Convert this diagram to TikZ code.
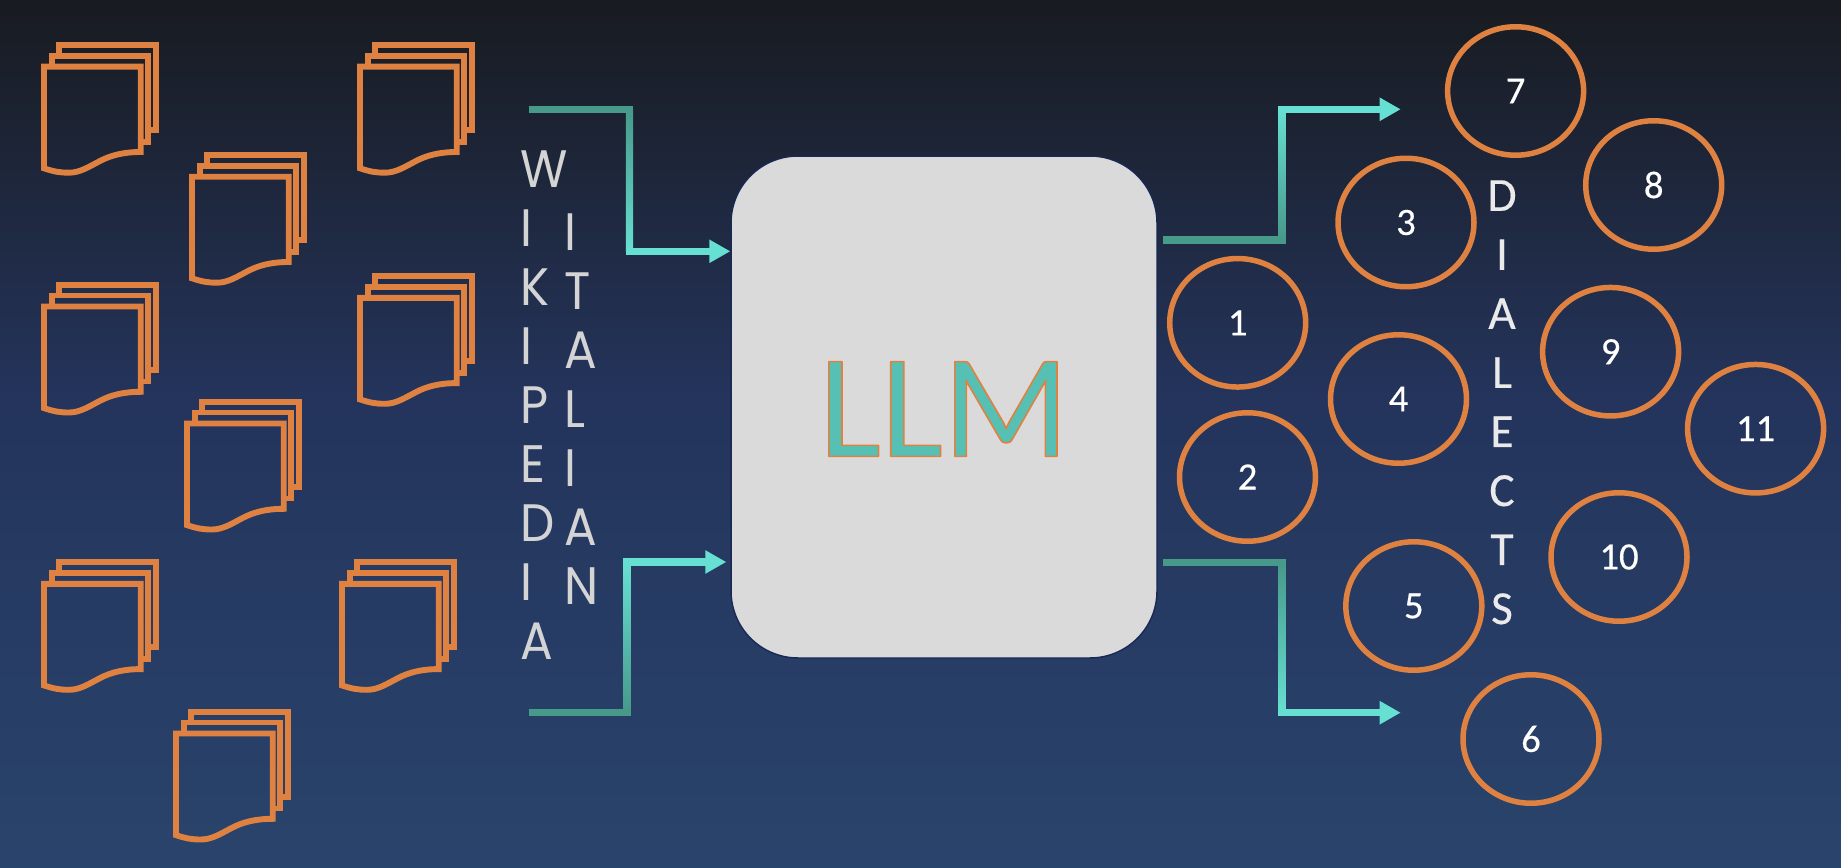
\documentclass[tikz,border=0pt]{standalone}
\usepackage{fontspec}
\usepackage{tikz}
\usetikzlibrary{arrows.meta,shapes.geometric}
\setmainfont{Carlito}
\newfontfamily\geofont[FakeStretch=0.92]{Poppins}
\newfontfamily\llmfont[FakeBold=1.1]{Carlito}
\newfontfamily\numfont[FakeBold=0.35]{Carlito}
\definecolor{bgtop}{RGB}{24,27,32}
\definecolor{bgmid}{RGB}{36,52,92}
\definecolor{bgend}{RGB}{41,68,108}
\definecolor{pageline}{RGB}{223,130,65}
\definecolor{flowdark}{RGB}{71,153,138}
\definecolor{flowlight}{RGB}{102,224,210}
\definecolor{boxgrey}{RGB}{218,218,218}
\definecolor{boxedge}{RGB}{25,40,85}
\definecolor{llmteal}{RGB}{86,192,180}
\definecolor{lettergrey}{RGB}{212,212,212}
\pgfdeclareverticalshading{backdrop}{100bp}{color(0bp)=(bgend); color(25bp)=(bgend); color(52bp)=(bgmid); color(75bp)=(bgtop); color(100bp)=(bgtop)}
% one leg of a flow: dark start, shaded riser
\newcommand{\flowleg}[4]{%
  \shade[#4] ([xshift=-.0725cm]#2) rectangle ([xshift=.0725cm]#3);
  \draw[legdark] (#1) -- ([xshift=.0725cm]#2);}
\tikzset{
  docstack/.pic={
    \draw[pageline, line width=.118cm]
      (15.3,-11) -- (15.3,-21.7) -- (112,-21.7) -- (112,63.3) -- (104,63.3);
    \draw[pageline, line width=.118cm]
      (8,0) -- (8,-11) -- (104,-11) -- (104,75) -- (96.7,75);
    \draw[pageline, line width=.118cm]
      (0,0) -- (96.7,0) -- (96.7,85.3)
      .. controls (80,85.3) and (67,88.5) .. (56,94.3)
      .. controls (45,100) and (36,106) .. (25,106)
      .. controls (16,106) and (10,105) .. (0,101.6) -- cycle;
  }
}
\begin{document}
\begin{tikzpicture}[
  x=.02cm, y=-.02cm,
  dialect/.style={draw=pageline, ellipse, line width=.11cm, text=white, inner sep=0pt,
                  minimum width=2.72cm, minimum height=2.57cm, font=\numfont\fontsize{22}{24}\selectfont},
  stacked/.style={text=lettergrey, align=left, inner sep=0pt,
                  font=\geofont\fontsize{30}{33.6}\selectfont},
  flow/.style={-{Triangle[length=.42cm, width=.44cm]}, flowlight, line width=.145cm},
  legdark/.style={flowdark, line width=.145cm},
  toplight/.style={top color=flowlight, bottom color=flowdark},
  topdark/.style={top color=flowdark, bottom color=flowlight}]
\shade[shading=backdrop] (0,0) rectangle (1841,868);
% document stacks
\foreach \name/\xx/\yy in {docA/44/66.7, docB/192/176.7, docC/360/66.7, docD/44/306.5, docE/360/297.8,
                           docF/187/423.5, docG/44/583.8, docH/342/583.8, docI/176/733.5}
  \pic (\name) at (\xx,\yy) {docstack};
\node[stacked, anchor=north west] (wiki) at (520,150) {W\\I\\K\\I\\P\\E\\D\\I\\A};
\node[stacked, anchor=north west] (ital) at (564,213) {I\\T\\A\\L\\I\\A\\N};
\node[draw=boxedge, fill=boxgrey, line width=.8pt, rounded corners=1.34cm,
      minimum width=8.52cm, minimum height=10.04cm] (llm) at (944,407) {};
\node[inner sep=0pt] (llmtext) at (944,409)
  {\llmfont\fontsize{84}{88}\selectfont\color{llmteal}\special{pdf:code 1 j 0.875 0.51 0.255 RG}LLM};
% dialects
\node[dialect] (d1) at (1237.7,322.8) {1};
\node[dialect] (d2) at (1247.5,477) {2};
\node[dialect] (d3) at (1406,222.5) {3};
\node[dialect] (d4) at (1398.5,399) {4};
\node[dialect] (d5) at (1413.8,606) {5};
\node[dialect] (d6) at (1531,739) {6};
\node[dialect] (d7) at (1515.6,91) {7};
\node[dialect] (d8) at (1653.7,185) {8};
\node[dialect] (d9) at (1610.6,351.7) {9};
\node[dialect] (d10) at (1619,557) {10};
\node[dialect] (d11) at (1755.6,428.7) {11};
\node[text=lettergrey!50!white, align=center, inner sep=0pt, anchor=north,
      font=\numfont\fontsize{27}{33.6}\selectfont] (dial) at (1502,180) {D\\I\\A\\L\\E\\C\\T\\S};
% flows
\coordinate (wikiTop) at (528.6,109.3);
\coordinate (wikiKnee) at (629.5,109.3);
\coordinate (wikiBend) at (629.5,251.3);
\coordinate (wikiLow) at (528.6,712.7);
\coordinate (lowKnee) at (627,712.7);
\coordinate (lowBend) at (627,562);
\coordinate (dialTop) at (1400.7,109.3);
\coordinate (dialLow) at (1400.7,712.7);
\coordinate (outTop) at (1163,240);
\coordinate (outTopKnee) at (1282,240);
\coordinate (outLow) at (1163,562.3);
\coordinate (outLowKnee) at (1282,562.3);
\draw[flow] (wikiTop) -| (wikiBend) -- (llm.west |- wikiBend);
\flowleg{wikiTop}{wikiKnee}{wikiBend}{topdark}
\draw[flow, shorten >=.08cm] (wikiLow) -| (lowBend) -- (llm.west |- lowBend);
\flowleg{wikiLow}{lowKnee}{lowBend}{toplight}
\draw[flow] (outTop) -| (dialTop -| outTopKnee) -- (dialTop);
\flowleg{outTop}{outTopKnee}{dialTop -| outTopKnee}{toplight}
\draw[flow] (outLow) -| (dialLow -| outLowKnee) -- (dialLow);
\flowleg{outLow}{outLowKnee}{dialLow -| outLowKnee}{topdark}
\end{tikzpicture}
\end{document}
